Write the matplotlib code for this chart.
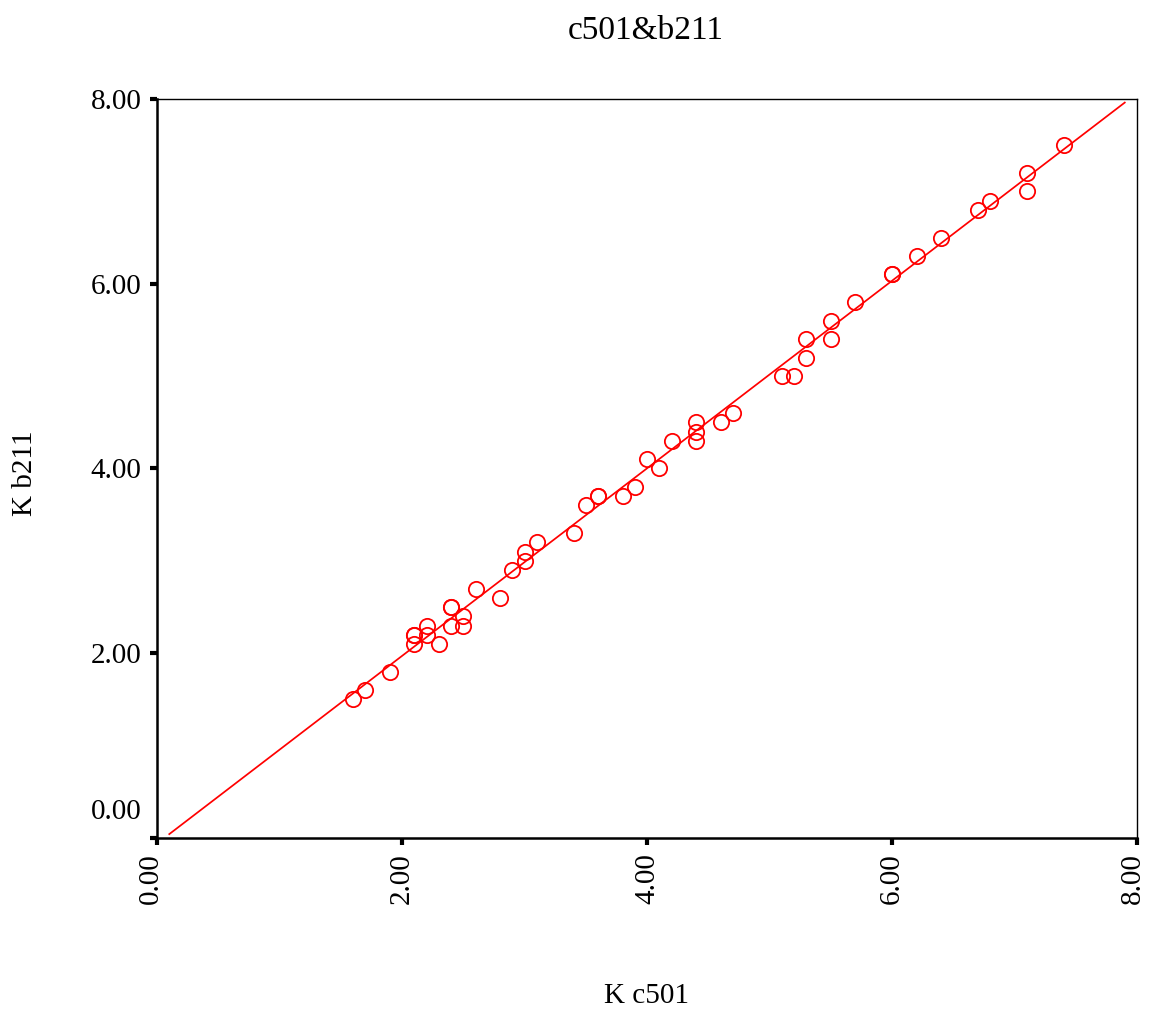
import numpy as np
import matplotlib
matplotlib.use("Agg")
import matplotlib.pyplot as plt
import matplotlib.transforms as mtransforms

plt.rcParams['font.family'] = ['Liberation Serif', 'DejaVu Serif']

x_c501 = [1.6, 1.7, 1.9, 2.1, 2.1, 2.1, 2.2, 2.2, 2.3, 2.4, 2.4, 2.4, 2.5, 2.5,
          2.6, 2.8, 2.9, 3.0, 3.0, 3.1, 3.4, 3.5, 3.6, 3.6, 3.8, 3.9, 4.0, 4.1,
          4.2, 4.4, 4.4, 4.4, 4.6, 4.7, 5.1, 5.2, 5.3, 5.3, 5.5, 5.5, 5.7, 6.0,
          6.0, 6.2, 6.4, 6.7, 6.8, 7.1, 7.1, 7.4]
y_b211 = [1.5, 1.6, 1.8, 2.1, 2.2, 2.2, 2.2, 2.3, 2.1, 2.3, 2.5, 2.5, 2.3, 2.4,
          2.7, 2.6, 2.9, 3.0, 3.1, 3.2, 3.3, 3.6, 3.7, 3.7, 3.7, 3.8, 4.1, 4.0,
          4.3, 4.3, 4.4, 4.5, 4.5, 4.6, 5.0, 5.0, 5.2, 5.4, 5.4, 5.6, 5.8, 6.1,
          6.1, 6.3, 6.5, 6.8, 6.9, 7.0, 7.2, 7.5]
fit_range = [0.1, 7.9]
ticks = [0, 2, 4, 6, 8]
tick_labels = ["0.00", "2.00", "4.00", "6.00", "8.00"]

fig = plt.figure(figsize=(11.52, 10.17), dpi=100)
ax = fig.add_axes([0.1363, 0.176, 0.8507, 0.7267])

red = '#ff0000'
ax.plot(x_c501, y_b211, linestyle='none', marker='o', markersize=11,
        markerfacecolor='none', markeredgecolor=red, markeredgewidth=1.3)

slope, intercept = np.polyfit(x_c501, y_b211, 1)
xf = np.array(fit_range)
ax.plot(xf, slope * xf + intercept, color=red, linewidth=1.25)

ax.set_xlim(0, 8)
ax.set_ylim(0, 8)
ax.set_xticks(ticks)
ax.set_xticklabels(tick_labels, rotation=90, fontsize=21)
ax.set_yticks(ticks)
ax.set_yticklabels(tick_labels, fontsize=21)
ax.tick_params(axis='both', direction='out', length=5, width=3, pad=6)
for s in ['top', 'right']:
    ax.spines[s].set_linewidth(1.0)
for s in ['left', 'bottom']:
    ax.spines[s].set_linewidth(1.8)

# shift the two origin labels apart, as in the reference
ylab0 = ax.get_yticklabels()[0]
ylab0.set_transform(ylab0.get_transform() +
                    mtransforms.ScaledTranslation(0, 29 / 100, fig.dpi_scale_trans))
xlab0 = ax.get_xticklabels()[0]
xlab0.set_transform(xlab0.get_transform() +
                    mtransforms.ScaledTranslation(-6 / 100, 0, fig.dpi_scale_trans))
xlab8 = ax.get_xticklabels()[-1]
xlab8.set_transform(xlab8.get_transform() +
                    mtransforms.ScaledTranslation(-4 / 100, 0, fig.dpi_scale_trans))

fig.text(0.5603, 0.97, 'c501&b211', ha='center', va='center', fontsize=24)
fig.text(0.561, 0.021, 'K c501', ha='center', va='center', fontsize=21)
fig.text(0.022, 0.535, 'K b211', ha='center', va='center', rotation=90, fontsize=21)

fig.savefig('out.png', dpi=100)
